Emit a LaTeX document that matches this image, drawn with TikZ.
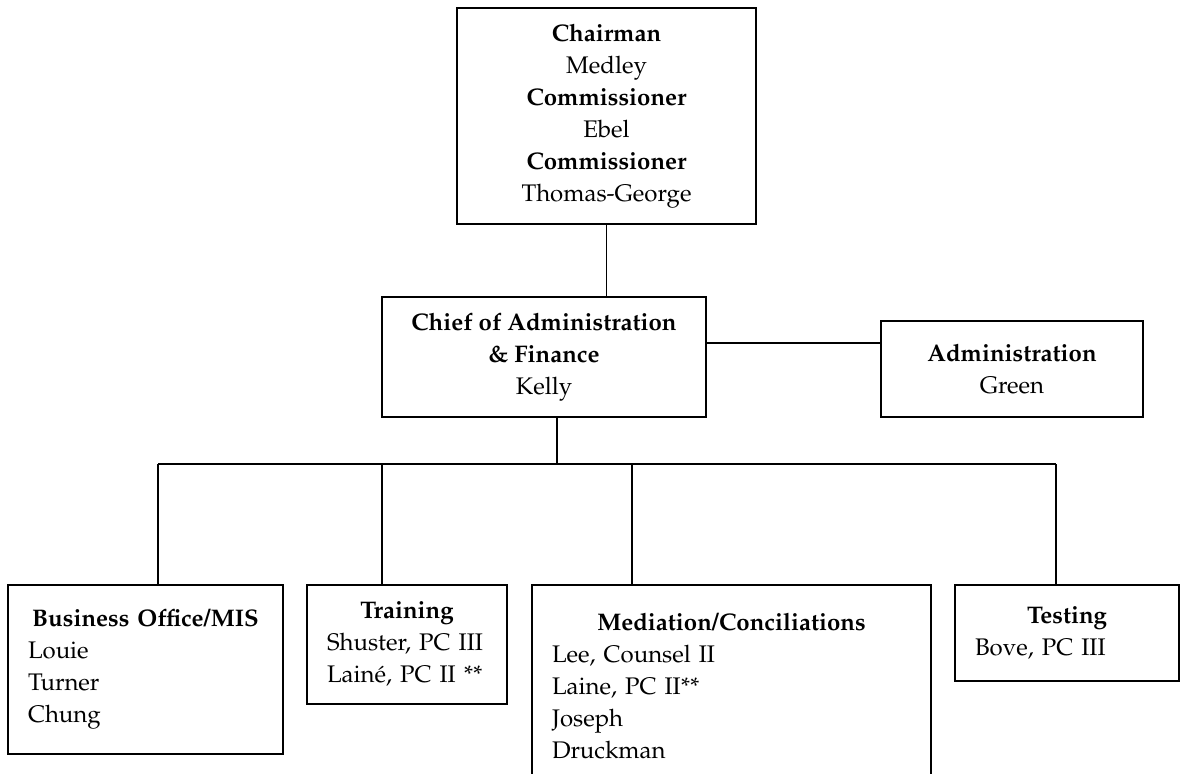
\documentclass[tikz,border=0pt]{standalone}
\usepackage[T1]{fontenc}
\usepackage{mathpazo}
\usepackage{tikz}
\tikzset{x=0.5pt, y=-0.5pt,
	box/.style={draw, line width=0.9pt, inner sep=0pt, anchor=north, align=center, font=\fontsize{12}{16}\selectfont},
	unit/.style={box, align=left, inner xsep=10pt},
	conn/.style={line width=0.8pt}}
\newcommand{\unithead}[1]{\makebox[\linewidth]{\textbf{#1}}}

\begin{document}
\begin{tikzpicture}
		\useasboundingbox (0,0) rectangle (1181,774);
		\node[box, minimum width=149.5pt, minimum height=108pt](top) at (606.5,7){\textbf{Chairman}\\Medley\\\textbf{Commissioner}\\Ebel\\\textbf{Commissioner}\\Thomas-George};
		\node[box, minimum width=162pt, minimum height=60pt](chief) at (544,296){\textbf{Chief of Administration}\\\textbf{\& Finance}\\Kelly};
		\node[box, minimum width=131pt, minimum height=48pt](admin) at (1012,320){\textbf{Administration}\\Green};
		\node[unit, text width=117.5pt, minimum height=84.5pt](busoff) at (145.5,584){\unithead{Business Office/MIS}\\Louie\\Turner\\Chung};
		\node[unit, text width=80pt, minimum height=59.5pt](train) at (407,584){\unithead{Training}\\Shuster, PC III\\Lain\'e, PC II **};
		\node[unit, text width=179.5pt, minimum height=101pt](medi) at (731.5,584){\unithead{Mediation/Conciliations}\\Lee, Counsel II\\Laine, PC II**\\Joseph\\Druckman};
		\node[unit, text width=92pt, minimum height=48pt](test) at (1067,584){\unithead{Testing}\\Bove, PC III};
		\draw[conn](top.south) -- (top.south |- chief.north);
		\draw[conn]([yshift=7pt]chief.east) -- ([yshift=7pt]chief.east -| admin.west);
		\coordinate(jc) at (557,464);
		\draw[conn](chief.south -| jc) -- (jc);
		\foreach \x/\n in {158/busoff, 382/train, 632/medi, 1056/test}{
			\coordinate(j\n) at (\x,464);
			\draw[conn](j\n) -- (j\n |- \n.north);
		}
		\draw[conn](jbusoff) -- (jtest);
	\end{tikzpicture}
\end{document}
